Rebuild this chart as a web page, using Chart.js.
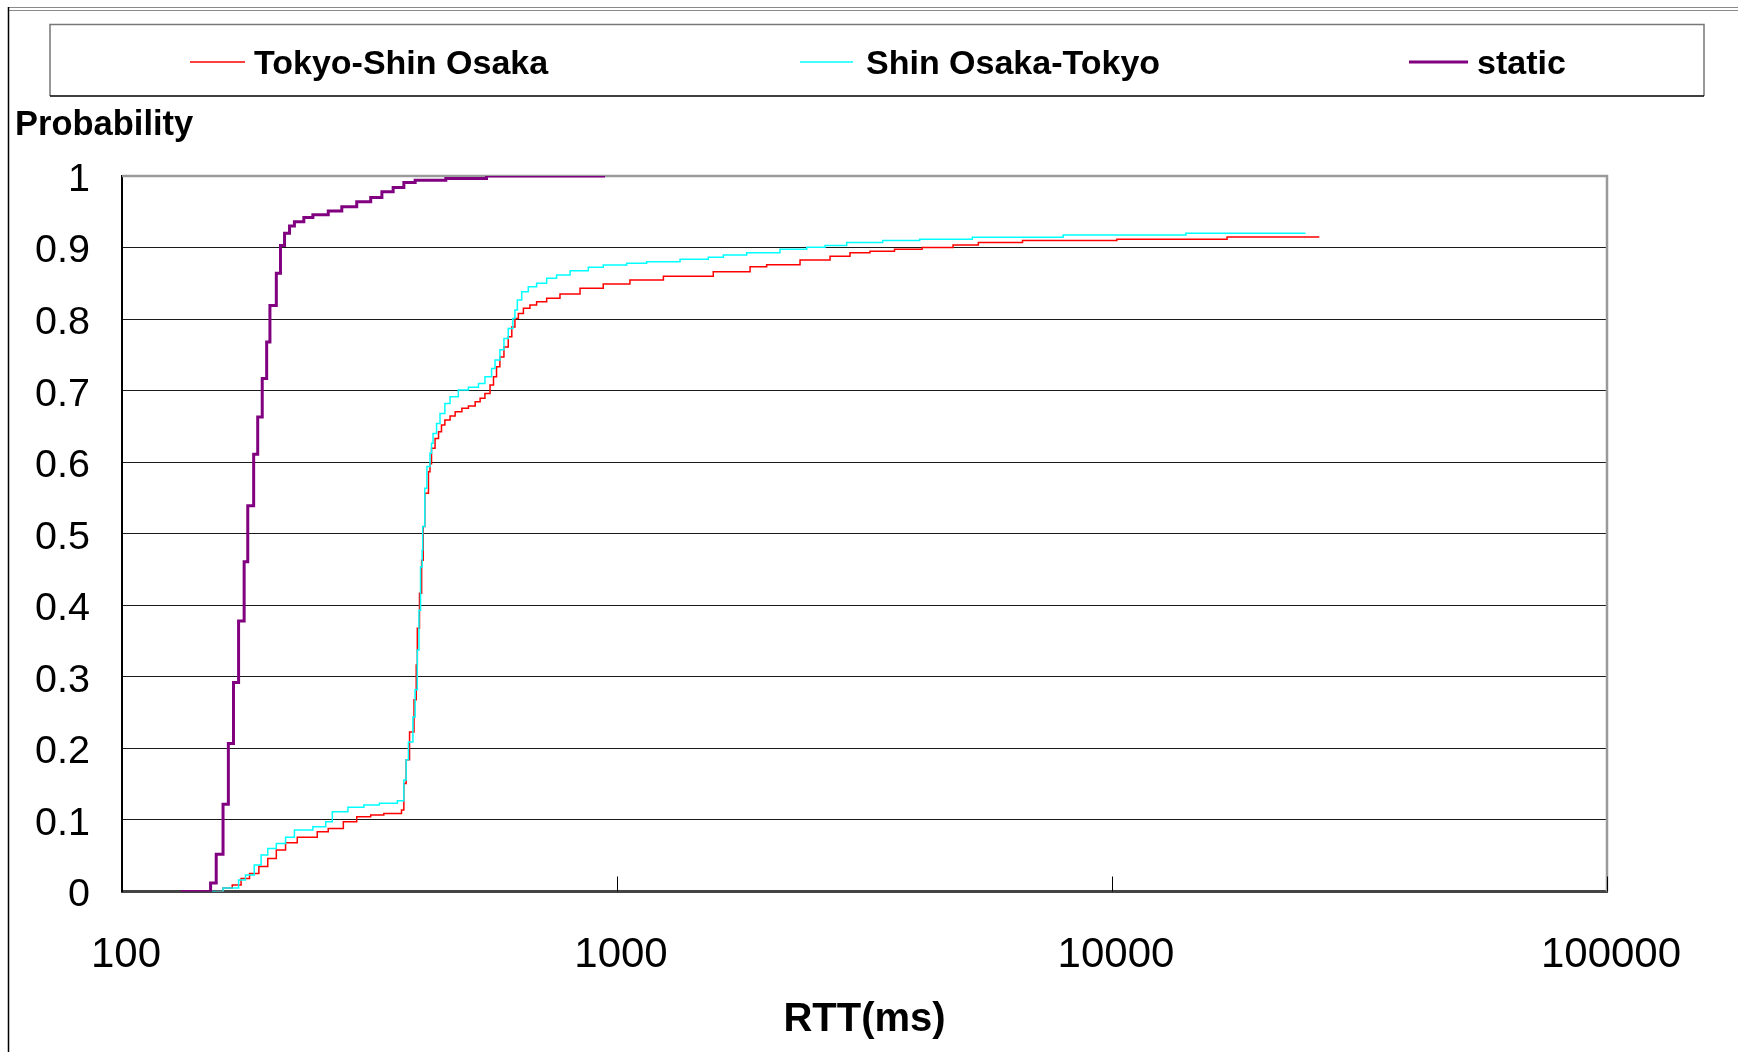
<!DOCTYPE html>
<html>
<head>
<meta charset="utf-8">
<title>RTT CDF</title>
<script src="https://cdn.jsdelivr.net/npm/chart.js@4.4.1/dist/chart.umd.min.js"></script>
<style>
  html, body { margin: 0; padding: 0; background: #fff; }
  canvas { display: block; }
</style>
</head>
<body>
<canvas id="cdf" width="1738" height="1052"></canvas>
<script>
// Series labels
const seriesNames = ['Tokyo-Shin Osaka', 'Shin Osaka-Tokyo', 'static'];

// RTT (ms) at each step of the empirical CDF, and the probability after the step
const rttTokyoShinOsaka = [155, 160, 167, 174, 181, 189, 197, 205, 214, 226, 248, 261, 280, 298, 318, 338, 367,
  371, 375, 381, 389, 393, 395, 399, 403, 406, 409, 416, 419, 422, 429, 436, 442, 449, 460, 471, 486, 501,
  517, 529, 541, 554, 563, 571, 580, 591, 603, 613, 622, 632, 647, 667, 688, 721, 767, 842, 938, 1062, 1241,
  1565, 1857, 2006, 2343, 2694, 2956, 3244, 3636, 4133, 4774, 5370, 6595, 10230, 17080, 26230];
const probTokyoShinOsaka = [0, 0.005, 0.009, 0.018, 0.025, 0.035, 0.046, 0.058, 0.068, 0.0757, 0.0836, 0.088,
  0.0976, 0.1045, 0.107, 0.109, 0.114, 0.151, 0.184, 0.223, 0.268, 0.3166, 0.368, 0.4167, 0.463, 0.51, 0.5565,
  0.5867, 0.598, 0.6194, 0.633, 0.6426, 0.652, 0.659, 0.6646, 0.6706, 0.6753, 0.6786, 0.6846, 0.6893, 0.696,
  0.708, 0.7195, 0.7335, 0.747, 0.761, 0.7754, 0.789, 0.801, 0.808, 0.815, 0.8197, 0.8243, 0.829, 0.835, 0.843,
  0.849, 0.8546, 0.86, 0.8663, 0.873, 0.876, 0.8826, 0.888, 0.8928, 0.8947, 0.8975, 0.9, 0.9036, 0.9069,
  0.9097, 0.9117, 0.9147, 0.9147];

const rttShinOsakaTokyo = [152, 160, 172, 177.6, 185, 191, 197, 205, 214, 223, 243, 258, 266, 286, 308, 331, 360,
  371, 375, 379, 387, 391, 395, 398, 401, 404, 405, 409, 413, 419, 422, 425, 432, 439, 449, 460, 478, 501, 525,
  541, 558, 567, 580, 591, 603, 616, 622, 629, 642, 662, 688, 721, 755, 804, 875, 938, 1046, 1148, 1341, 1529,
  1640, 1828, 2134, 2417, 2632, 2911, 3441, 4087, 5222, 7968, 14100, 24590];
const probShinOsakaTokyo = [0, 0.005, 0.016, 0.023, 0.037, 0.051, 0.06, 0.067, 0.0757, 0.086, 0.0906, 0.0976,
  0.1115, 0.1177, 0.121, 0.1233, 0.127, 0.156, 0.184, 0.209, 0.244, 0.282, 0.3375, 0.393, 0.454, 0.477, 0.51,
  0.5635, 0.594, 0.6124, 0.6264, 0.64, 0.654, 0.668, 0.682, 0.6916, 0.7009, 0.7047, 0.71, 0.7195, 0.731, 0.743,
  0.757, 0.773, 0.787, 0.801, 0.8127, 0.8267, 0.8383, 0.8453, 0.85, 0.857, 0.8617, 0.8677, 0.8724, 0.8756,
  0.878, 0.88, 0.8836, 0.8864, 0.8896, 0.8928, 0.8975, 0.9003, 0.903, 0.907, 0.9097, 0.9115, 0.9143, 0.9175,
  0.9201, 0.9201];

const rttStatic = [131.5, 151, 155, 160, 164, 168, 172, 176.5, 179.5, 184.5, 188, 192, 196, 199, 205, 209, 213,
  218, 223, 233, 243, 261, 278, 298, 318, 335, 353, 371, 391, 451, 545, 946];
const probStatic = [0, 0.012, 0.052, 0.122, 0.207, 0.292, 0.378, 0.461, 0.539, 0.611, 0.663, 0.717, 0.768,
  0.819, 0.864, 0.903, 0.92, 0.93, 0.936, 0.942, 0.946, 0.951, 0.957, 0.964, 0.97, 0.978, 0.984, 0.991, 0.994,
  0.9965, 1.0, 1.0];

// Axis ticks
const xTickValues = [100, 1000, 10000, 100000];
const yTickStep = 0.1;

const seriesColors = ['#ff0000', '#00ffff', '#800080'];
const seriesWidths = [1.5, 1.5, 3];

const FONT = "'Liberation Sans', Arial, Helvetica, sans-serif";

function toPoints(xs, ys) {
  return xs.map((x, i) => ({ x: x, y: ys[i] }));
}

// Page frame, legend box, plot border and the inward tick marks
const decorations = {
  id: 'decorations',
  beforeDraw(chart) {
    const ctx = chart.ctx;
    ctx.save();
    ctx.fillStyle = '#ffffff';
    ctx.fillRect(0, 0, chart.width, chart.height);
    // outer frame
    ctx.strokeStyle = '#8a8a8a';
    ctx.lineWidth = 1.2;
    ctx.beginPath();
    ctx.moveTo(8, 7.5); ctx.lineTo(chart.width, 7.5);
    ctx.moveTo(8, 10.5); ctx.lineTo(chart.width, 10.5);
    ctx.stroke();
    ctx.strokeStyle = '#000';
    ctx.lineWidth = 1.5;
    ctx.beginPath();
    ctx.moveTo(8.5, 7); ctx.lineTo(8.5, chart.height);
    ctx.stroke();
    ctx.restore();
  },
  beforeDatasetsDraw(chart) {
    const ctx = chart.ctx;
    const area = chart.chartArea;
    const xs = chart.scales.x;
    ctx.save();
    // plot frame: top and right edges
    ctx.strokeStyle = '#9a9a9a';
    ctx.lineWidth = 2.5;
    ctx.beginPath();
    ctx.moveTo(area.left, area.top);
    ctx.lineTo(area.right, area.top);
    ctx.lineTo(area.right, area.bottom);
    ctx.stroke();

    // tick marks pointing into the plot
    ctx.strokeStyle = '#000';
    ctx.lineWidth = 1;
    ctx.beginPath();
    xTickValues.forEach(v => {
      const px = Math.round(xs.getPixelForValue(v)) + 0.5;
      ctx.moveTo(px, area.bottom);
      ctx.lineTo(px, area.bottom - 15);
    });
    ctx.stroke();
    ctx.restore();
  },
  afterDraw(chart) {
    const ctx = chart.ctx;
    ctx.save();

    // legend box
    ctx.lineWidth = 1.5;
    ctx.strokeStyle = '#777';
    ctx.beginPath();
    ctx.moveTo(50, 96); ctx.lineTo(50, 24.5); ctx.lineTo(1704, 24.5); ctx.lineTo(1704, 96);
    ctx.stroke();
    ctx.strokeStyle = '#000';
    ctx.beginPath();
    ctx.moveTo(50, 96); ctx.lineTo(1704, 96);
    ctx.stroke();

    const legendItems = [
      { line: [190, 245], textX: 254 },
      { line: [800, 853], textX: 866 },
      { line: [1409, 1468], textX: 1477 }
    ];
    const ly = 62;
    ctx.font = 'bold 34px ' + FONT;
    ctx.textBaseline = 'middle';
    ctx.textAlign = 'left';
    legendItems.forEach((it, i) => {
      const ds = chart.data.datasets[i];
      ctx.strokeStyle = ds.borderColor;
      ctx.lineWidth = ds.borderWidth;
      ctx.beginPath();
      ctx.moveTo(it.line[0], ly);
      ctx.lineTo(it.line[1], ly);
      ctx.stroke();
      ctx.fillStyle = '#000';
      ctx.fillText(ds.label, it.textX, ly + 3);
    });

    // y axis caption
    ctx.font = 'bold 34.5px ' + FONT;
    ctx.fillStyle = '#000';
    ctx.textAlign = 'left';
    ctx.textBaseline = 'middle';
    ctx.fillText('Probability', 15, 125);
    ctx.restore();
  }
};

new Chart(document.getElementById('cdf'), {
  type: 'line',
  data: {
    datasets: [
      { label: seriesNames[0], data: toPoints(rttTokyoShinOsaka, probTokyoShinOsaka), order: 3 },
      { label: seriesNames[1], data: toPoints(rttShinOsakaTokyo, probShinOsakaTokyo), order: 2 },
      { label: seriesNames[2], data: toPoints(rttStatic, probStatic), order: 1 }
    ].map((d, i) => Object.assign(d, {
      borderColor: seriesColors[i],
      backgroundColor: seriesColors[i],
      borderWidth: seriesWidths[i],
      stepped: true,
      pointRadius: 0,
      fill: false,
      tension: 0
    }))
  },
  options: {
    responsive: false,
    devicePixelRatio: 1,
    animation: false,
    parsing: true,
    layout: { padding: { left: 0, top: 176, right: 131, bottom: 0 } },
    plugins: {
      legend: { display: false },
      tooltip: { enabled: false }
    },
    scales: {
      x: {
        type: 'logarithmic',
        min: 100,
        max: 100000,
        afterBuildTicks(scale) {
          scale.ticks = xTickValues.map(v => ({ value: v }));
        },
        afterFit(scale) { scale.height = 160.5; },
        ticks: {
          autoSkip: false,
          maxRotation: 0,
          padding: 39,
          labelOffset: 4,
          color: '#000',
          font: { family: FONT, size: 42 },
          callback: v => String(v)
        },
        grid: { display: true, drawOnChartArea: false, drawTicks: false },
        border: { display: true, color: '#444', width: 3 },
        title: {
          display: true,
          text: 'RTT(ms)',
          color: '#000',
          font: { family: FONT, size: 40, weight: 'bold' },
          padding: { top: 0, bottom: 8 }
        }
      },
      y: {
        type: 'linear',
        min: 0,
        max: 1,
        afterFit(scale) { scale.width = 122; },
        ticks: {
          stepSize: yTickStep,
          padding: 32,
          labelOffset: 4,
          color: '#000',
          font: { family: FONT, size: 39.5 },
          callback: v => (Math.round(v * 10) / 10).toString()
        },
        grid: {
          drawTicks: false,
          color: '#1a1a1a',
          lineWidth: 1
        },
        border: { display: true, color: '#000', width: 2 }
      }
    }
  },
  plugins: [decorations]
});
</script>
</body>
</html>
